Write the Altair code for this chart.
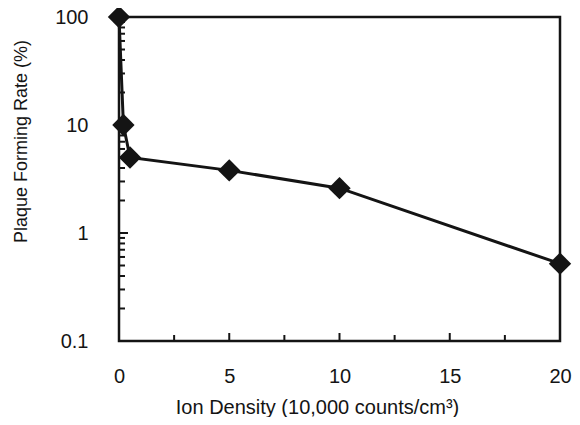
import altair as alt
import pandas as pd

# Data
ion_density = [0, 0.2, 0.5, 5, 10, 20]
plaque_rate = [100, 10, 5.0, 3.8, 2.6, 0.52]

# Axis labels and tick positions
x_tick_labels = [0, 5, 10, 15, 20]
y_tick_labels = [0.1, 1, 10, 100]
x_minor_ticks = [2.5, 7.5, 12.5, 17.5]
x_major_ticks = [5, 10, 15]
y_minor_ticks = [0.2, 0.3, 0.4, 0.5, 0.6, 0.7, 0.8, 0.9,
                 2, 3, 4, 5, 6, 7, 8, 9,
                 20, 30, 40, 50, 60, 70, 80, 90]
y_major_ticks = [1, 10]

ink = "#141414"
font = "Liberation Sans"

df = pd.DataFrame({"x": ion_density, "y": plaque_rate})

xscale = alt.Scale(domain=[0, 20], nice=False, zero=False)
yscale = alt.Scale(type="log", domain=[0.1, 100], nice=False)

xaxis = alt.Axis(
    values=x_tick_labels, title="Ion Density (10,000 counts/cm³)",
    grid=False, ticks=False, tickSize=0, domain=False,
    labelFont=font, labelFontSize=20, labelColor=ink, labelPadding=25,
    labelFlush=False, labelOverlap=False,
    titleFont=font, titleFontSize=20, titleFontWeight="normal", titleColor=ink,
    titleX=198, titleY=72, titleAlign="center", titleBaseline="alphabetic",
)
yaxis = alt.Axis(
    values=y_tick_labels, title="Plaque Forming Rate (%)", format="~g",
    grid=False, ticks=False, tickSize=0, domain=False,
    labelFont=font, labelFontSize=20, labelColor=ink, labelPadding=31,
    labelFlush=False, labelOverlap=False,
    titleFont=font, titleFontSize=18, titleFontWeight="normal", titleColor=ink,
    titleX=-93, titleY=124, titleAlign="center", titleBaseline="alphabetic",
    titleAngle=270,
)

base = alt.Chart(df).encode(
    x=alt.X("x:Q", scale=xscale, axis=xaxis),
    y=alt.Y("y:Q", scale=yscale, axis=yaxis),
)
line = base.mark_line(color=ink, strokeWidth=3)
points = base.mark_point(shape="diamond", filled=True, size=500, color=ink, opacity=1)

ymin = alt.Chart(pd.DataFrame({"v": y_minor_ticks})).mark_rule(color=ink, strokeWidth=2).encode(
    y=alt.Y("v:Q", scale=yscale, axis=yaxis), x=alt.value(0), x2=alt.value(6))
ymaj = alt.Chart(pd.DataFrame({"v": y_major_ticks})).mark_rule(color=ink, strokeWidth=2).encode(
    y=alt.Y("v:Q", scale=yscale, axis=yaxis), x=alt.value(0), x2=alt.value(9))
xmin = alt.Chart(pd.DataFrame({"v": x_minor_ticks})).mark_rule(color=ink, strokeWidth=2).encode(
    x=alt.X("v:Q", scale=xscale, axis=xaxis), y=alt.value(324), y2=alt.value(318))
xmaj = alt.Chart(pd.DataFrame({"v": x_major_ticks})).mark_rule(color=ink, strokeWidth=2).encode(
    x=alt.X("v:Q", scale=xscale, axis=xaxis), y=alt.value(324), y2=alt.value(316))

chart = alt.layer(line, ymin, ymaj, xmin, xmaj, points).properties(
    width=441, height=324,
    padding={"left": 111, "top": 9, "right": 12, "bottom": 76},
    autosize=alt.AutoSizeParams(type="none"),
    background="white",
).configure_view(stroke=ink, strokeWidth=2.5)

chart.save("out.html", embed_options={"renderer": "svg", "actions": False})
